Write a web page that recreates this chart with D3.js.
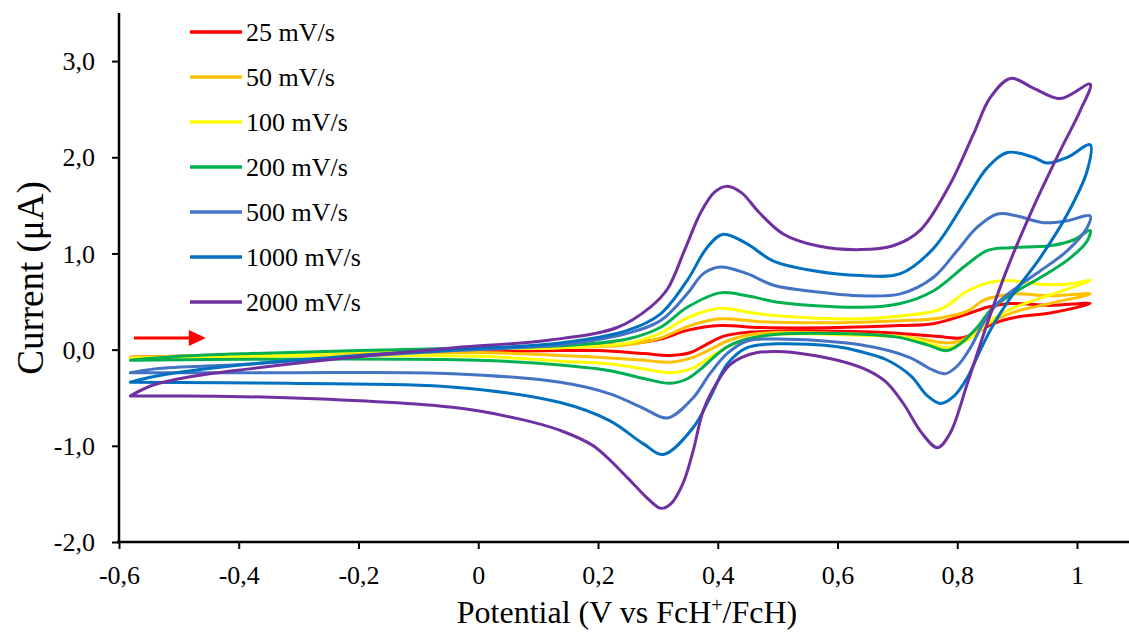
<!DOCTYPE html>
<html>
<head>
<meta charset="utf-8">
<script src="https://cdn.jsdelivr.net/npm/d3@7"></script>
<style>
html,body{margin:0;padding:0;background:#fff;}
svg{display:block;font-family:"Liberation Serif","Times New Roman",serif;}
</style>
</head>
<body>
<svg id="chart" width="1129" height="632"></svg>
<script>
// ---- data ----
const seriesNames = ["25 mV/s","50 mV/s","100 mV/s","200 mV/s","500 mV/s","1000 mV/s","2000 mV/s"];
const seriesColors = ["#ff0000","#ffc000","#ffff00","#00b050","#4472c4","#0070c0","#7030a0"];
const xTicks = [-0.6,-0.4,-0.2,0,0.2,0.4,0.6,0.8,1];
const xTickLabels = ["-0,6","-0,4","-0,2","0","0,2","0,4","0,6","0,8","1"];
const yTicks = [-2,-1,0,1,2,3];
const yTickLabels = ["-2,0","-1,0","0,0","1,0","2,0","3,0"];

// each series: forward scan then reverse scan, [potential V, current µA]
const cv25 = [[-0.581,-0.08],[-0.38,-0.05],[-0.2,-0.02],[0,0.01],[0.137,0.03],[0.249,0.06],[0.304,0.11],[0.349,0.2],[0.404,0.25],[0.471,0.23],[0.6,0.23],[0.705,0.25],[0.76,0.27],[0.817,0.37],[0.85,0.44],[0.889,0.48],[0.955,0.46],[1.022,0.48],
  [0.955,0.38],[0.9,0.34],[0.86,0.27],[0.833,0.18],[0.805,0.12],[0.78,0.13],[0.7,0.17],[0.6,0.19],[0.5,0.19],[0.45,0.18],[0.41,0.14],[0.38,0.05],[0.355,-0.03],[0.321,-0.06],[0.276,-0.04],[0.2,-0.01],[0.137,-0.01],[0,-0.02],[-0.38,-0.06],[-0.581,-0.08]];
const cv50 = [[-0.581,-0.08],[-0.38,-0.05],[-0.2,-0.02],[0,0.01],[0.137,0.02],[0.249,0.05],[0.304,0.12],[0.349,0.24],[0.404,0.32],[0.471,0.29],[0.6,0.28],[0.705,0.3],[0.772,0.33],[0.817,0.4],[0.843,0.51],[0.872,0.56],[0.9,0.58],[0.955,0.56],[1.022,0.58],
  [0.955,0.48],[0.9,0.4],[0.86,0.3],[0.833,0.2],[0.805,0.09],[0.783,0.07],[0.74,0.11],[0.7,0.14],[0.6,0.17],[0.5,0.18],[0.449,0.15],[0.416,0.09],[0.387,0.0],[0.359,-0.08],[0.321,-0.13],[0.276,-0.11],[0.2,-0.08],[0.137,-0.06],[0,-0.03],[-0.38,-0.06],[-0.581,-0.08]];
const cv100 = [[-0.581,-0.09],[-0.38,-0.05],[-0.2,-0.02],[0,0.01],[0.137,0.02],[0.249,0.07],[0.304,0.17],[0.349,0.33],[0.404,0.43],[0.46,0.38],[0.504,0.35],[0.638,0.32],[0.705,0.35],[0.772,0.42],[0.817,0.61],[0.855,0.7],[0.884,0.72],[0.939,0.68],[0.984,0.68],[1.022,0.72],
  [0.984,0.63],[0.927,0.51],[0.889,0.42],[0.86,0.32],[0.833,0.17],[0.805,0.06],[0.783,0.02],[0.76,0.05],[0.72,0.12],[0.638,0.15],[0.5,0.16],[0.449,0.11],[0.416,0.03],[0.387,-0.08],[0.359,-0.19],[0.321,-0.24],[0.276,-0.2],[0.22,-0.15],[0.137,-0.12],[0,-0.07],[-0.38,-0.07],[-0.581,-0.09]];
const cv200 = [[-0.581,-0.11],[-0.5,-0.07],[-0.38,-0.04],[-0.2,-0.01],[0,0.02],[0.137,0.04],[0.249,0.11],[0.304,0.23],[0.349,0.44],[0.404,0.59],[0.449,0.56],[0.504,0.49],[0.638,0.44],[0.705,0.48],[0.76,0.61],[0.817,0.89],[0.85,1.03],[0.889,1.06],[0.955,1.08],[0.994,1.14],[1.022,1.24],
  [1.017,1.13],[0.984,0.93],[0.939,0.75],[0.9,0.61],[0.86,0.44],[0.833,0.23],[0.805,0.06],[0.783,-0.01],[0.75,0.05],[0.7,0.13],[0.638,0.16],[0.5,0.16],[0.449,0.11],[0.416,0.03],[0.395,-0.07],[0.372,-0.2],[0.35,-0.3],[0.321,-0.35],[0.276,-0.3],[0.22,-0.22],[0.137,-0.16],[0,-0.11],[-0.38,-0.1],[-0.581,-0.11]];
const cv500 = [[-0.581,-0.24],[-0.54,-0.2],[-0.382,-0.15],[-0.2,-0.07],[-0.04,-0.01],[0.137,0.05],[0.249,0.17],[0.304,0.3],[0.349,0.58],[0.376,0.79],[0.404,0.86],[0.449,0.79],[0.493,0.67],[0.566,0.6],[0.638,0.56],[0.705,0.58],[0.76,0.75],[0.8,1.03],[0.833,1.27],[0.867,1.41],[0.9,1.39],[0.944,1.32],[0.984,1.34],[1.022,1.39],
  [1.017,1.27],[0.984,1.03],[0.939,0.82],[0.9,0.65],[0.867,0.48],[0.843,0.27],[0.822,0.02],[0.8,-0.17],[0.78,-0.25],[0.755,-0.2],[0.72,-0.08],[0.638,0.05],[0.5,0.11],[0.449,0.09],[0.416,-0.04],[0.387,-0.25],[0.359,-0.5],[0.316,-0.71],[0.276,-0.61],[0.22,-0.46],[0.137,-0.34],[-0.043,-0.25],[-0.32,-0.24],[-0.581,-0.24]];
const cv1000 = [[-0.581,-0.34],[-0.55,-0.29],[-0.48,-0.22],[-0.38,-0.15],[-0.2,-0.06],[-0.04,0.0],[0.137,0.07],[0.249,0.2],[0.304,0.37],[0.349,0.72],[0.382,1.06],[0.409,1.2],[0.449,1.1],[0.493,0.92],[0.56,0.82],[0.638,0.77],[0.705,0.79],[0.76,1.05],[0.817,1.58],[0.85,1.89],[0.884,2.05],[0.927,2.0],[0.95,1.94],[0.984,2.0],[1.022,2.13],
  [1.017,1.86],[0.984,1.41],[0.939,0.96],[0.889,0.54],[0.855,0.2],[0.833,-0.08],[0.817,-0.29],[0.795,-0.48],[0.772,-0.56],[0.75,-0.48],[0.722,-0.27],[0.68,-0.1],[0.638,-0.02],[0.6,0.03],[0.5,0.06],[0.449,0.02],[0.416,-0.15],[0.387,-0.5],[0.359,-0.81],[0.309,-1.09],[0.276,-0.98],[0.22,-0.74],[0.137,-0.55],[-0.04,-0.39],[-0.32,-0.35],[-0.581,-0.34]];
const cv2000 = [[-0.581,-0.48],[-0.544,-0.37],[-0.488,-0.29],[-0.382,-0.2],[-0.21,-0.08],[-0.04,0.02],[0.12,0.1],[0.232,0.23],[0.287,0.44],[0.316,0.63],[0.345,1.04],[0.372,1.43],[0.395,1.64],[0.416,1.7],[0.44,1.63],[0.47,1.42],[0.51,1.2],[0.566,1.08],[0.638,1.04],[0.693,1.08],[0.738,1.24],[0.788,1.72],[0.827,2.24],[0.855,2.62],[0.889,2.82],[0.927,2.72],[0.972,2.61],[1.022,2.76],
  [1.005,2.48],[0.972,2.07],[0.927,1.48],[0.884,0.85],[0.85,0.27],[0.817,-0.35],[0.788,-0.87],[0.767,-1.02],[0.74,-0.86],[0.71,-0.56],[0.68,-0.33],[0.645,-0.2],[0.6,-0.11],[0.55,-0.05],[0.5,-0.02],[0.466,-0.03],[0.44,-0.08],[0.42,-0.16],[0.399,-0.34],[0.376,-0.63],[0.359,-1.05],[0.342,-1.39],[0.322,-1.6],[0.305,-1.65],[0.28,-1.53],[0.249,-1.33],[0.192,-1.0],[0.137,-0.84],[0.068,-0.72],[-0.043,-0.6],[-0.32,-0.5],[-0.581,-0.48]];
const allSeries = [cv25, cv50, cv100, cv200, cv500, cv1000, cv2000];

// ---- chart ----
const svg = d3.select("#chart");
const x = d3.scaleLinear().domain([-0.6, 1.0]).range([119, 1077]);
const y = d3.scaleLinear().domain([-2, 3.5]).range([542, 13]);

const line = d3.line().x(d => x(d[0])).y(d => y(d[1])).curve(d3.curveCatmullRom.alpha(0.5));

svg.append("g").selectAll("path").data(allSeries).join("path")
  .attr("d", d => line(d))
  .attr("fill", "none")
  .attr("stroke", (d, i) => seriesColors[i])
  .attr("stroke-width", 3)
  .attr("stroke-linejoin", "round")
  .attr("stroke-linecap", "round");

// axes
const xAxis = d3.axisBottom(x).tickValues(xTicks).tickFormat((d, i) => xTickLabels[i]).tickSize(7).tickSizeOuter(0);
const gx = svg.append("g").attr("transform", `translate(0,${y(-2)})`).call(xAxis);
gx.select(".domain").remove();
gx.append("line").attr("x1", 117).attr("x2", 1129).attr("y1", 0).attr("y2", 0).attr("stroke", "#000").attr("stroke-width", 2.5);
gx.selectAll(".tick line").attr("stroke", "#000").attr("stroke-width", 2);
gx.selectAll(".tick text").attr("font-size", 26).attr("fill", "#000").attr("y", 42).attr("dy", 0)
  .style("font-family", "'Liberation Serif', serif");

const yAxis = d3.axisLeft(y).tickValues(yTicks).tickFormat((d, i) => yTickLabels[i]).tickSize(7).tickSizeOuter(0);
const gy = svg.append("g").attr("transform", `translate(${x(-0.6)},0)`).call(yAxis);
gy.select(".domain").remove();
gy.append("line").attr("x1", 0).attr("x2", 0).attr("y1", 13).attr("y2", 543).attr("stroke", "#000").attr("stroke-width", 2.5);
gy.selectAll(".tick line").attr("stroke", "#000").attr("stroke-width", 2);
gy.selectAll(".tick text").attr("font-size", 26).attr("fill", "#000").attr("x", -24).attr("dy", "0.33em")
  .style("font-family", "'Liberation Serif', serif");

// axis titles
svg.append("text").attr("transform", "translate(43,278) rotate(-90)").attr("text-anchor", "middle")
  .attr("font-size", 37).attr("fill", "#000").text("Current (μA)");
const xt = svg.append("text").attr("x", 627).attr("y", 623).attr("text-anchor", "middle").attr("font-size", 32).attr("fill", "#000");
xt.append("tspan").text("Potential (V vs FcH");
xt.append("tspan").attr("font-size", 20).attr("dy", -11).text("+");
xt.append("tspan").attr("dy", 11).text("/FcH)");

// legend
const lg = svg.append("g");
seriesNames.forEach((name, i) => {
  const yy = 32 + i * 45;
  lg.append("line").attr("x1", 190).attr("x2", 242).attr("y1", yy).attr("y2", yy)
    .attr("stroke", seriesColors[i]).attr("stroke-width", 3.5);
  lg.append("text").attr("x", 246).attr("y", yy + 9).attr("font-size", 26).attr("fill", "#000").text(name);
});

// scan-direction arrow
const ax0 = x(-0.575), ax1 = x(-0.455), ay = y(0.12);
svg.append("line").attr("x1", ax0).attr("x2", ax1 - 14).attr("y1", ay).attr("y2", ay).attr("stroke", "#ff0000").attr("stroke-width", 3);
svg.append("path").attr("d", `M${ax1 - 17},${ay - 8}L${ax1},${ay}L${ax1 - 17},${ay + 8}Z`).attr("fill", "#ff0000");
</script>
</body>
</html>
